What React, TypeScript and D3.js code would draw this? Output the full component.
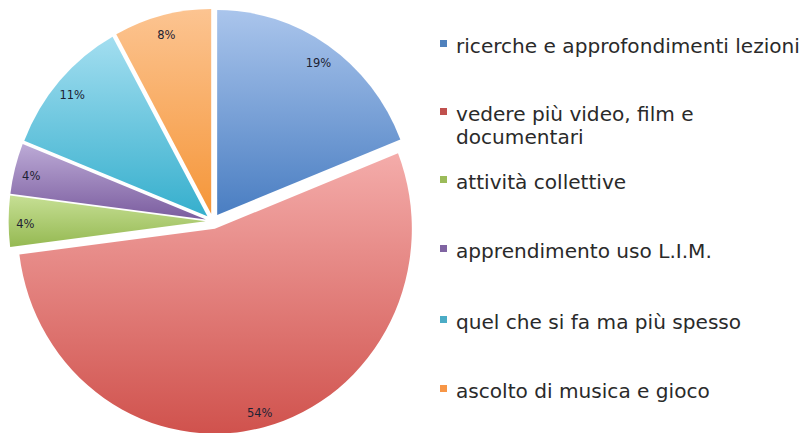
import React from "react";
import * as d3 from "d3";

const categories = [
  "ricerche e approfondimenti lezioni",
  "vedere più video, film e documentari",
  "attività collettive",
  "apprendimento uso L.I.M.",
  "quel che si fa ma più spesso",
  "ascolto di musica e gioco",
];
const legendLines = [
  ["ricerche e approfondimenti lezioni"],
  ["vedere più video, film e", "documentari"],
  ["attività collettive"],
  ["apprendimento uso L.I.M."],
  ["quel che si fa ma più spesso"],
  ["ascolto di musica e gioco"],
];
const values = [19, 54, 4, 4, 11, 8];
const labels = ["19%", "54%", "4%", "4%", "11%", "8%"];
const baseColors = ["#4f81bd", "#c0504d", "#9bbb59", "#8064a2", "#4bacc6", "#f79646"];
const topColors = ["#aac5ec", "#f4acaa", "#c6df94", "#bcaad6", "#a3def0", "#fcc491"];
const bottomColors = ["#4a7ec2", "#d0524d", "#95b952", "#7b5d9f", "#36afcd", "#f59639"];

const W = 802;
const H = 433;
const cx = 213;
const cy = 221.3;
const R = 197;
const ky = 1.04;
const explode = 7.4;

export default function App() {
  const pie = d3.pie<number>().sort(null).value((d) => d)(values);
  const arc = d3.arc<d3.PieArcDatum<number>>().innerRadius(0).outerRadius(R);

  const legendY = [53, 121, 189, 258, 329, 398];

  return (
    <svg width={W} height={H} style={{ position: "absolute", left: 0, top: 0, background: "#fff" }}>
      <defs>
        {values.map((_, i) => (
          <linearGradient key={i} id={`g${i}`} x1="0" y1="0" x2="0" y2="1">
            <stop offset="0%" stopColor={topColors[i]} />
            <stop offset="100%" stopColor={bottomColors[i]} />
          </linearGradient>
        ))}
      </defs>
      <rect width={W} height={H} fill="#fff" />
      {pie.map((p, i) => {
        const mid = (p.startAngle + p.endAngle) / 2;
        const dx = Math.sin(mid) * explode;
        const dy = -Math.cos(mid) * explode;
        return (
          <g key={i} transform={`translate(${cx},${cy}) scale(1,${ky}) translate(${dx},${dy})`}>
            <path d={arc(p) || ""} fill={`url(#g${i})`} />
          </g>
        );
      })}
      {pie.map((p, i) => {
        const mid = (p.startAngle + p.endAngle) / 2;
        const rr = R * 0.915 + explode;
        const x = cx + Math.sin(mid) * rr;
        const y = cy + 3 - Math.cos(mid) * rr * ky;
        return (
          <text
            key={i}
            x={x}
            y={y}
            textAnchor="middle"
            dominantBaseline="central"
            fontFamily="'DejaVu Sans', Verdana, sans-serif"
            fontSize={11.5}
            fill="#1d2233"
          >
            {labels[i]}
          </text>
        );
      })}
      {categories.map((c, i) => (
        <g key={c}>
          <rect x={440} y={legendY[i] - 13} width={7} height={7} fill={baseColors[i]} />
          <text
            x={456}
            y={legendY[i]}
            fontFamily="'DejaVu Sans', Verdana, sans-serif"
            fontSize={20.1}
            fill="#2a2a2a"
          >
            {legendLines[i].map((l, j) => (
              <tspan key={j} x={456} dy={j === 0 ? 0 : 22.5}>
                {l}
              </tspan>
            ))}
          </text>
        </g>
      ))}
    </svg>
  );
}
